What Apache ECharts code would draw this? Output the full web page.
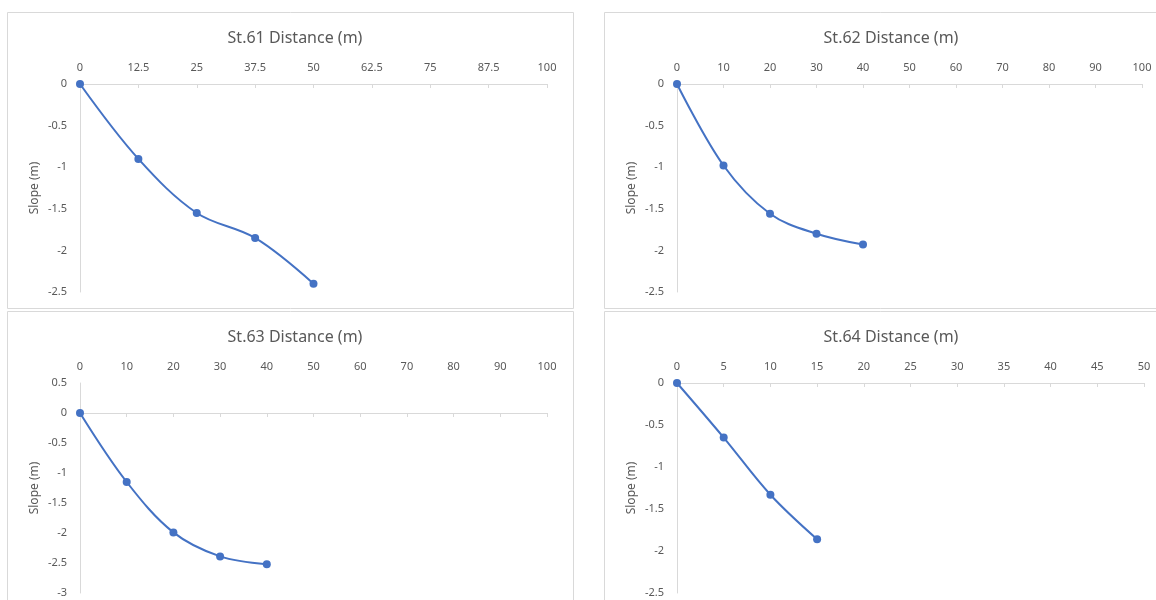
<!DOCTYPE html>
<html>
<head>
<meta charset="utf-8">
<script src="https://cdn.jsdelivr.net/npm/echarts@6/dist/echarts.min.js"></script>
<style>
html,body{margin:0;padding:0;background:#fff;}
#c{width:1156px;height:600px;}
</style>
</head>
<body>
<div id="c"></div>
<script>
// ---- data ----
const titles = ['St.61 Distance (m)', 'St.62 Distance (m)', 'St.63 Distance (m)', 'St.64 Distance (m)'];
const st61_x = [0, 12.5, 25, 37.5, 50];
const st61_y = [0, -0.9, -1.55, -1.85, -2.4];
const st62_x = [0, 10, 20, 30, 40];
const st62_y = [0, -0.98, -1.56, -1.8, -1.93];
const st63_x = [0, 10, 20, 30, 40];
const st63_y = [0, -1.15, -1.99, -2.39, -2.52];
const st64_x = [0, 5, 10, 15];
const st64_y = [0, -0.65, -1.33, -1.86];
// axis ranges [min, max, interval]
const xRanges = [[0, 100, 12.5], [0, 100, 10], [0, 100, 10], [0, 50, 5]];
const yRanges = [[-2.5, 0, 0.5], [-2.5, 0, 0.5], [-3, 0.5, 0.5], [-2.5, 0, 0.5]];
const yName = 'Slope (m)';

const xs = [st61_x, st62_x, st63_x, st64_x];
const ys = [st61_y, st62_y, st63_y, st64_y];

const lineColor = '#4472C4';
const axisColor = '#d9d9d9';
const textColor = '#595959';
const font = 'Noto Sans, Liberation Sans, sans-serif';

const grids = [
  {left: 80, width: 467, top: 84, height: 208},
  {left: 677, width: 465, top: 84, height: 208},
  {left: 80, width: 467, top: 383, height: 210},
  {left: 677, width: 467, top: 383, height: 210}
];
const titlePos = [
  {x: 290, y: 33}, {x: 886, y: 33}, {x: 290, y: 332}, {x: 886, y: 332}
];

const xAxes = [];
const yAxes = [];
const series = [];
for (let i = 0; i < 4; i++) {
  // labels axis at top of grid
  xAxes.push({
    type: 'value', gridIndex: i, position: 'top',
    min: xRanges[i][0], max: xRanges[i][1], interval: xRanges[i][2],
    axisLine: {show: false, onZero: false},
    axisTick: {show: false},
    splitLine: {show: false},
    axisLabel: {color: textColor, fontSize: 11, fontFamily: font, margin: 11}
  });
  // line axis at y = 0
  xAxes.push({
    type: 'value', gridIndex: i, position: 'top',
    min: xRanges[i][0], max: xRanges[i][1], interval: xRanges[i][2],
    axisLine: {show: true, onZero: true, lineStyle: {color: axisColor, width: 1}},
    axisTick: {show: true, inside: true, length: 4, lineStyle: {color: axisColor}},
    splitLine: {show: false},
    axisLabel: {show: false}
  });
  yAxes.push({
    type: 'value', gridIndex: i,
    min: yRanges[i][0], max: yRanges[i][1], interval: yRanges[i][2],
    name: yName, nameLocation: 'middle', nameGap: 39, nameRotate: 90,
    nameTextStyle: {color: textColor, fontSize: 12, fontFamily: font},
    axisLine: {show: true, onZero: false, lineStyle: {color: axisColor, width: 1}},
    axisTick: {show: false},
    splitLine: {show: false},
    axisLabel: {color: textColor, fontSize: 11, fontFamily: font, margin: 13}
  });
  series.push({
    type: 'line',
    xAxisIndex: i * 2 + 1, yAxisIndex: i,
    data: xs[i].map((x, k) => [x, ys[i][k]]),
    smooth: 0.35,
    symbol: 'circle', symbolSize: 8,
    itemStyle: {color: lineColor},
    lineStyle: {color: lineColor, width: 2},
    z: 5
  });
}

const chart = echarts.init(document.getElementById('c'), null, {renderer: 'canvas'});
chart.setOption({
  animation: false,
  backgroundColor: '#ffffff',
  title: titles.map((t, i) => ({
    text: t, left: titlePos[i].x, top: titlePos[i].y, textAlign: 'center', textVerticalAlign: 'middle',
    textStyle: {color: textColor, fontSize: 16, fontWeight: 'normal', fontFamily: font}
  })),
  graphic: [
    {type: 'rect', shape: {x: 7.5, y: 12.5, width: 566, height: 296}, style: {fill: 'none', stroke: axisColor, lineWidth: 1}, silent: true},
    {type: 'rect', shape: {x: 604.5, y: 12.5, width: 570, height: 296}, style: {fill: 'none', stroke: axisColor, lineWidth: 1}, silent: true},
    {type: 'rect', shape: {x: 7.5, y: 311.5, width: 566, height: 300}, style: {fill: 'none', stroke: axisColor, lineWidth: 1}, silent: true},
    {type: 'rect', shape: {x: 604.5, y: 311.5, width: 570, height: 300}, style: {fill: 'none', stroke: axisColor, lineWidth: 1}, silent: true}
  ],
  grid: grids,
  xAxis: xAxes,
  yAxis: yAxes,
  series: series
});
</script>
</body>
</html>
